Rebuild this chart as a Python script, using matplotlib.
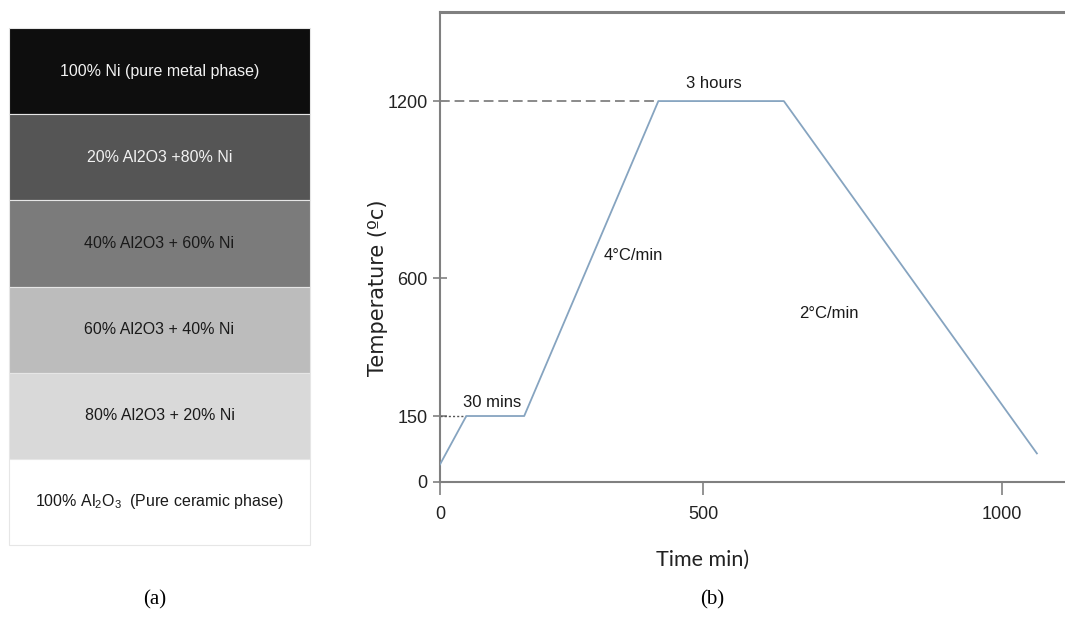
"""Layer stack of the graded Ni/Al2O3 sample (a) and its sintering schedule (b)."""

import numpy as np
import matplotlib

matplotlib.use("Agg")
from matplotlib import pyplot as plt

plt.rcParams["font.family"] = ["Liberation Sans", "DejaVu Sans"]
plt.rcParams["mathtext.fontset"] = "custom"
plt.rcParams["mathtext.rm"] = "Liberation Sans"
plt.rcParams["mathtext.default"] = "regular"

# (a) layers, top to bottom
layer_labels = [
    "100% Ni (pure metal phase)",
    "20% Al2O3 +80% Ni",
    "40% Al2O3 + 60% Ni",
    "60% Al2O3 + 40% Ni",
    "80% Al2O3 + 20% Ni",
    "100% Al$_2$O$_3$  (Pure ceramic phase)",
]
layer_colours = ["#0e0e0e", "#555555", "#7b7b7b", "#bcbcbc", "#d9d9d9", "#ffffff"]
layer_text_colours = ["#f2f2f2", "#f2f2f2", "#1a1a1a", "#1a1a1a", "#1a1a1a", "#1a1a1a"]

# (b) heating schedule (schematic)
time_min = [0, 50, 160, 415, 635, 1058]
temp_c = [40, 150, 150, 1200, 1200, 65]
x_ticks = [0, 500, 1000]
y_ticks = [0, 150, 600, 1200]
segment_notes = ["30 mins", "4°C/min", "3 hours", "2°C/min"]
note_x = [100, 367, 518, 711]
note_y = [170, 678, 1234, 485]

fig = plt.figure(figsize=(10.65, 6.39), dpi=100)

# ---- panel (a)
ax_a = fig.add_axes([9 / 1065, 1 - 545 / 639, 301 / 1065, 517 / 639])
ypos = np.arange(len(layer_labels))[::-1]
bars = ax_a.barh(ypos, 1, height=1, left=0, color=layer_colours,
                 edgecolor="#e6e6e6", linewidth=0.8)
for b in bars:
    b.set_clip_on(False)
for yp, lab, tc in zip(ypos, layer_labels, layer_text_colours):
    ax_a.text(0.5, yp, lab, ha="center", va="center", color=tc, fontsize=11.5)
ax_a.set_xlim(0, 1)
ax_a.set_ylim(-0.5, len(layer_labels) - 0.5)
ax_a.axis("off")

# ---- panel (b): the drawing is schematic, so both axes are piecewise
x_kn = [-1000, 0, 500, 1000, 2000]
x_px = [-526, 0, 263, 562, 1160]
y_kn = [-1000, 0, 150, 600, 1200, 3000]
y_px = [-440, 0, 66, 204, 381, 912]


def fwd_x(v):
    return np.interp(v, x_kn, x_px)


def inv_x(v):
    return np.interp(v, x_px, x_kn)


def fwd_y(v):
    return np.interp(v, y_kn, y_px)


def inv_y(v):
    return np.interp(v, y_px, y_kn)


ax = fig.add_axes([440 / 1065, 1 - 482 / 639, 625 / 1065, 470 / 639])
ax.set_xscale("function", functions=(fwd_x, inv_x))
ax.set_yscale("function", functions=(fwd_y, inv_y))
ax.set_xlim(0, 1105)
ax.set_ylim(0, 1502)

spine_col = "#808080"
ax.plot([0, time_min[3]], [1200, 1200], color="#8a8a8a", lw=1.4,
        dashes=(5, 2.5), zorder=2)
ax.plot([0, time_min[1]], [150, 150], color="#555555", lw=1.0,
        dashes=(1.5, 1.5), zorder=2)
ax.plot(time_min, temp_c, color="#86a4c0", lw=1.3, zorder=3)

for txt, tx, ty in zip(segment_notes, note_x, note_y):
    ax.text(tx, ty, txt, ha="center", va="center" if "C/min" in txt else "bottom",
            fontsize=12, color="#1a1a1a")

ax.spines["right"].set_visible(False)
for side in ["left", "bottom"]:
    ax.spines[side].set_color(spine_col)
    ax.spines[side].set_linewidth(1.5)
ax.spines["top"].set_color(spine_col)
ax.spines["top"].set_linewidth(2.2)

ax.set_xticks(x_ticks)
ax.set_yticks(y_ticks)
ax.set_xticklabels([str(v) for v in x_ticks])
ax.set_yticklabels([str(v) for v in y_ticks])
ax.minorticks_off()
ax.tick_params(axis="x", direction="out", length=9.5, width=1.2,
               color=spine_col, pad=8, labelsize=13, labelcolor="#222222")
ax.tick_params(axis="y", direction="inout", length=10, width=1.2,
               color=spine_col, pad=4, labelsize=13, labelcolor="#222222")

ax.set_ylabel("Temperature (ºc)", fontsize=15, family=["DejaVu Sans"],
              color="#222222")
ax.yaxis.set_label_coords(-0.083, 0.413)
ax.set_xlabel("Time min)", fontsize=15.5, family=["Lato", "DejaVu Sans"],
              color="#222222")
ax.xaxis.set_label_coords(0.42, -0.145)

fig.text(155 / 1065, 1 - 600 / 639, "(a)", ha="center", va="center",
         fontsize=15, family=["Liberation Serif", "DejaVu Serif"])
fig.text(712 / 1065, 1 - 600 / 639, "(b)", ha="center", va="center",
         fontsize=15, family=["Liberation Serif", "DejaVu Serif"])

fig.savefig("out.png", dpi=100)
